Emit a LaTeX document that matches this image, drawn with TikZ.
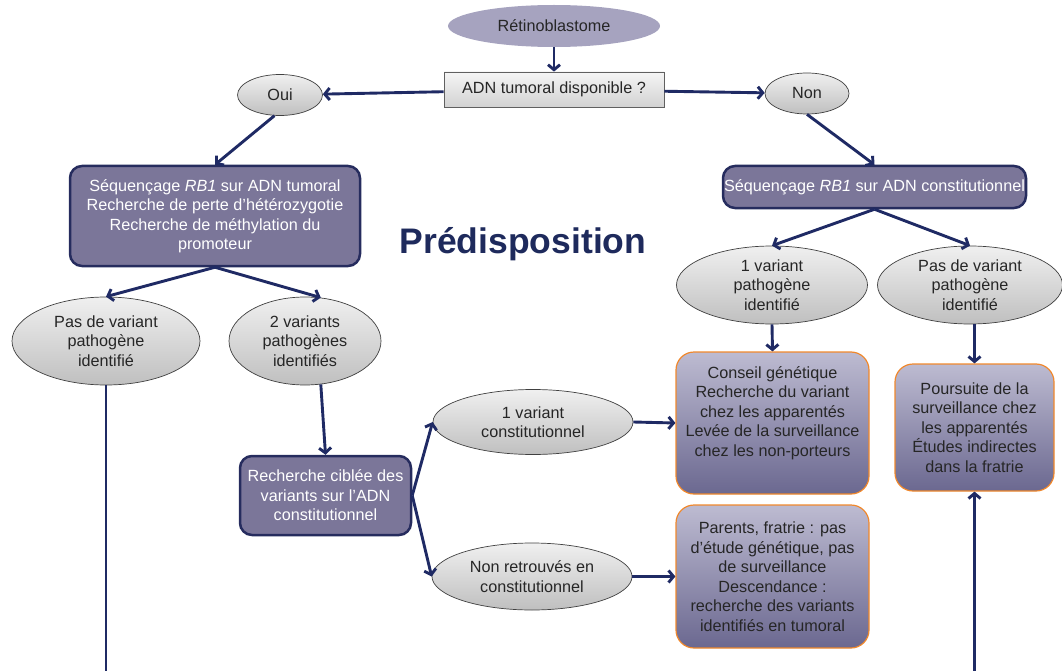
\documentclass[tikz,border=0pt]{standalone}
\usepackage{fontspec}
\setmainfont{Liberation Sans}
\usetikzlibrary{shapes.geometric,arrows.meta}
\definecolor{linknavy}{HTML}{1F2A64}
\definecolor{edgenavy}{HTML}{262C5E}
\definecolor{boxfill}{HTML}{7B7699}
\definecolor{retfill}{HTML}{A6A3BF}
\definecolor{lavtop}{HTML}{BDBBD1}
\definecolor{lavbot}{HTML}{6B6890}
\definecolor{orangeedge}{HTML}{F0882C}
\definecolor{titleblue}{HTML}{1E2A5C}
\definecolor{darktext}{HTML}{262626}
\tikzset{
  conn/.style={draw=linknavy, line width=2.9pt, -{Straight Barb[length=5pt,width=12pt]}},
  grayell/.style={ellipse, draw=black!75, line width=0.7pt, top color=gray!12, bottom color=gray!50, text=darktext},
  navybox/.style={rectangle, rounded corners=12pt, draw=edgenavy, line width=2.5pt, fill=boxfill, text=white},
  orangebox/.style={rectangle, rounded corners=18pt, draw=orangeedge, line width=1.2pt, top color=lavtop, bottom color=lavbot, text=darktext},
}
\begin{document}
\begin{tikzpicture}[x=1pt,y=-1pt,
  every node/.style={font=\fontsize{16.2}{19.5}\selectfont, inner sep=1pt, align=center}]
\useasboundingbox (0,0) rectangle (1062,671);

% top of the chart
\node[ellipse, fill=retfill, text=darktext, minimum width=212pt, minimum height=42pt] (ret) at (554,26) {Rétinoblastome};
\node[rectangle, draw=gray!75!black, line width=0.8pt, top color=gray!8, bottom color=gray!35, text=darktext,
      minimum width=220pt, minimum height=35pt] (adn) at (554,89.5) {ADN tumoral disponible ?};
\node[grayell, minimum width=85pt, minimum height=41pt] (oui) at (280,95) {Oui};
\node[grayell, minimum width=84pt, minimum height=41pt] (non) at (807,93.5) {Non};

% first analyses
\node[navybox, minimum width=290pt, minimum height=100pt] (lbox) at (215,216)
  {Séquençage \textit{RB1} sur ADN tumoral\\Recherche de perte d’hétérozygotie\\Recherche de méthylation du\\promoteur};
\node[navybox, minimum width=303pt, minimum height=42pt] (rbox) at (874.5,187)
  {Séquençage \textit{RB1} sur ADN constitutionnel};

\node[font=\fontsize{35.5}{42}\selectfont\bfseries, text=titleblue] (title) at (523,244) {Prédisposition};

% results
\node[grayell, minimum width=188pt, minimum height=88pt] (pas1) at (106,341) {Pas de variant\\pathogène\\identifié};
\node[grayell, minimum width=152pt, minimum height=88pt] (var2) at (305,341) {2 variants\\pathogènes\\identifiés};
\node[grayell, minimum width=191pt, minimum height=78pt] (var1p) at (772,285) {1 variant\\pathogène\\identifié};
\node[grayell, minimum width=185pt, minimum height=78pt] (pasp) at (970,285) {Pas de variant\\pathogène\\identifié};

\node[navybox, minimum width=171pt, minimum height=79pt] (rech) at (325.5,495.5)
  {Recherche ciblée des\\variants sur l’ADN\\constitutionnel};
\node[grayell, minimum width=200pt, minimum height=65pt] (c1) at (533,422) {1 variant\\constitutionnel};
\node[grayell, minimum width=200pt, minimum height=67pt] (nr) at (532,576.5) {Non retrouvés en\\constitutionnel};

% conclusions
\node[orangebox, minimum width=193pt, minimum height=142pt, text depth=23pt] (box1) at (772.5,423)
  {Conseil génétique\\Recherche du variant\\chez les apparentés\\Levée de la surveillance\\chez les non-porteurs};
\node[orangebox, minimum width=193pt, minimum height=143pt] (box2) at (772.5,576.5)
  {Parents, fratrie : pas\\d’étude génétique, pas\\de surveillance\\Descendance :\\recherche des variants\\identifiés en tumoral};
\node[orangebox, minimum width=159pt, minimum height=127pt] (box3) at (974.5,427.5)
  {Poursuite de la\\surveillance chez\\les apparentés\\Études indirectes\\dans la fratrie};

\coordinate (bot) at (0,672);

% connectors
\draw[conn] (ret) -- (adn);
\draw[conn] (adn) -- (oui);
\draw[conn] (adn) -- (non);
\draw[conn] (oui.255) -- (lbox.north);
\draw[conn] (non.south) -- (rbox.north);
\draw[conn] (lbox.south) -- (pas1.north);
\draw[conn] (lbox.south) -- (var2.70);
\draw[conn] (rbox.south) -- (var1p.north);
\draw[conn] (rbox.south) -- (pasp.north);
\draw[conn] (var2.290) -- (rech.north);
\draw[conn] (rech.east) -- (c1.west);
\draw[conn] (rech.east) -- (nr.west);
\draw[conn] (c1.east) -- (box1.west);
\draw[conn] (nr.east) -- (box2.west);
\draw[conn] (var1p.south) -- (box1.north);
\draw[conn] (box3.north |- pasp.south) -- (box3.north);
\draw[conn] (pas1.south) -- (pas1.south |- bot) -- (box3.south |- bot) -- (box3.south);
\end{tikzpicture}
\end{document}
